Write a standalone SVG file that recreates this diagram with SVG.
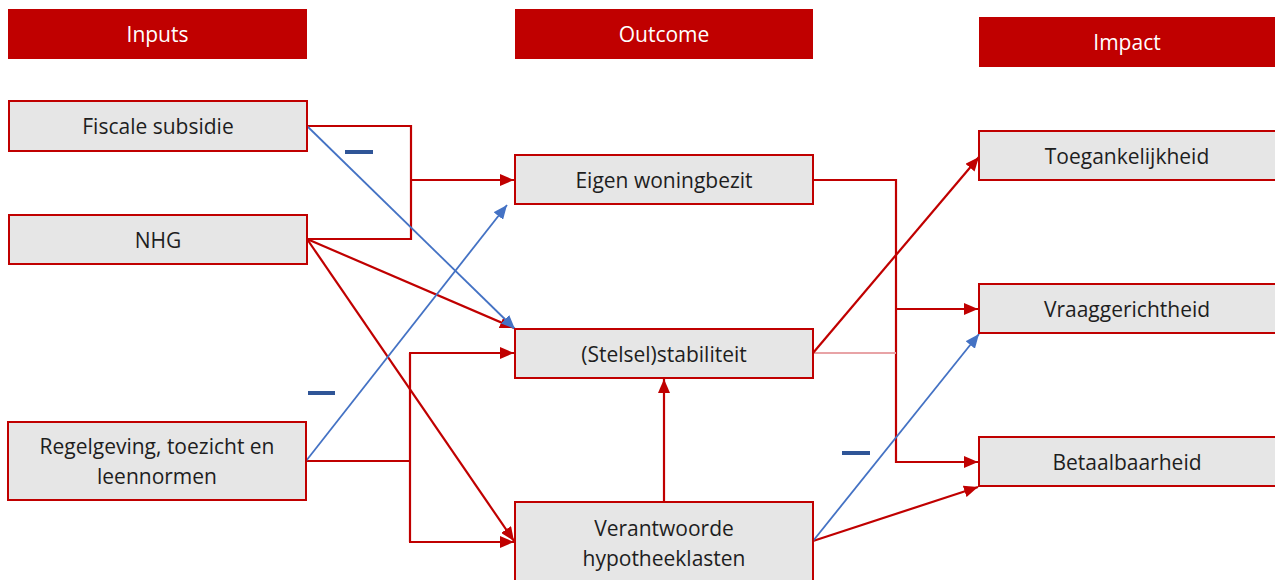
<svg xmlns="http://www.w3.org/2000/svg" width="1275" height="580" viewBox="0 0 1275 580">
<style>
.hdr{fill:#C00000}
.hdrt{fill:#FFFFFF;font-family:"Open Sans","Liberation Sans",sans-serif;font-size:21px;text-anchor:middle;dominant-baseline:central}
.box{fill:#E6E6E6;stroke:#C00000;stroke-width:2}
.lbl{fill:#1E1E1E;font-family:"Open Sans","Liberation Sans",sans-serif;font-size:21px;text-anchor:middle;dominant-baseline:central}
.r{fill:none;stroke:#C00000;stroke-width:2.2}
.b{fill:none;stroke:#4472C4;stroke-width:1.8}
.minus{fill:#2F5597}
</style>
<defs>
<marker id="ar" markerUnits="userSpaceOnUse" markerWidth="14" markerHeight="12" refX="14" refY="6" orient="auto"><path d="M0,0 L14,6 L0,12 z" fill="#C00000"/></marker>
<marker id="ab" markerUnits="userSpaceOnUse" markerWidth="14" markerHeight="12" refX="14" refY="6" orient="auto"><path d="M0,0 L14,6 L0,12 z" fill="#4472C4"/></marker>
</defs>
<g id="h-inputs"><rect class="hdr" x="8" y="9" width="299" height="50"/><text class="hdrt" x="157.5" y="34">Inputs</text></g>
<g id="h-outcome"><rect class="hdr" x="515" y="9" width="298" height="50"/><text class="hdrt" x="664" y="34">Outcome</text></g>
<g id="h-impact"><rect class="hdr" x="979" y="17" width="296" height="50"/><text class="hdrt" x="1127" y="42">Impact</text></g>
<g id="connectors">
<polyline class="r" points="307,126 411,126 411,239 307,239"/>
<line class="r" x1="411" y1="180" x2="514" y2="180" stroke-width="2.8" marker-end="url(#ar)"/>
<line class="r" x1="307" y1="239" x2="514" y2="328" marker-end="url(#ar)"/>
<line class="r" x1="307" y1="239" x2="514" y2="541" marker-end="url(#ar)"/>
<polyline class="r" points="306,461 410,461"/>
<line class="r" x1="410" y1="353" x2="410" y2="542"/>
<line class="r" x1="409" y1="353" x2="514" y2="353" marker-end="url(#ar)"/>
<line class="r" x1="409" y1="542" x2="514" y2="542" marker-end="url(#ar)"/>
<line class="r" x1="664" y1="502" x2="664" y2="379" marker-end="url(#ar)"/>
<polyline class="r" points="813,180 896,180 896,462 978,462" marker-end="url(#ar)"/>
<line class="r" x1="896" y1="309" x2="978" y2="309" stroke-width="1.2" marker-end="url(#ar)"/>
<line x1="813" y1="353" x2="896" y2="353" stroke="#E8A3A6" stroke-width="2"/>
<line class="r" x1="813" y1="353" x2="979" y2="157" marker-end="url(#ar)"/>
<line class="r" x1="813" y1="541" x2="978" y2="487" marker-end="url(#ar)"/>
<line class="b" x1="307" y1="126" x2="515" y2="329" stroke-width="1" marker-end="url(#ab)"/>
<line class="b" x1="306" y1="461" x2="507" y2="205" marker-end="url(#ab)"/>
<line class="b" x1="813" y1="541" x2="979" y2="334" marker-end="url(#ab)"/>
<rect class="minus" x="345" y="150" width="28" height="4"/>
<rect class="minus" x="308" y="391" width="27" height="4"/>
<rect class="minus" x="842" y="451" width="28" height="4"/>
</g>
<g id="n-fiscale"><rect class="box" x="9" y="101" width="298" height="50"/><text class="lbl" x="158" y="126">Fiscale subsidie</text></g>
<g id="n-nhg"><rect class="box" x="9" y="215" width="298" height="49"/><text class="lbl" x="158" y="239.5">NHG</text></g>
<g id="n-regel"><rect class="box" x="8" y="422" width="298" height="78"/><text class="lbl" x="157" y="446">Regelgeving, toezicht en</text><text class="lbl" x="157" y="476">leennormen</text></g>
<g id="n-eigen"><rect class="box" x="515" y="155" width="298" height="49"/><text class="lbl" x="664" y="180">Eigen woningbezit</text></g>
<g id="n-stelsel"><rect class="box" x="515" y="329" width="298" height="49"/><text class="lbl" x="664" y="353.5">(Stelsel)stabiliteit</text></g>
<g id="n-verant"><rect class="box" x="515" y="502" width="298" height="82"/><text class="lbl" x="664" y="528">Verantwoorde</text><text class="lbl" x="664" y="558">hypotheeklasten</text></g>
<g id="n-toeg"><rect class="box" x="979" y="131" width="300" height="49"/><text class="lbl" x="1127" y="156">Toegankelijkheid</text></g>
<g id="n-vraag"><rect class="box" x="979" y="284" width="300" height="49"/><text class="lbl" x="1127" y="309">Vraaggerichtheid</text></g>
<g id="n-betaal"><rect class="box" x="979" y="437" width="300" height="49"/><text class="lbl" x="1127" y="462">Betaalbaarheid</text></g>
</svg>
